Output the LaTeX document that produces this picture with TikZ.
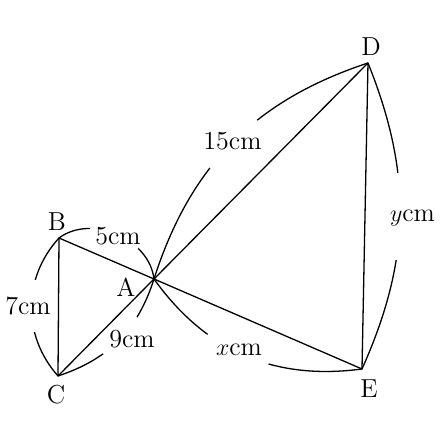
\documentclass[tikz,border=0pt]{standalone}
\begin{document}
\begin{tikzpicture}[x=0.5pt,y=0.5pt,line width=0.65pt,
  every node/.style={font=\fontsize{13}{15}\selectfont,inner sep=1pt},
  gap/.style={fill=white,draw=none},
  side/.style={line join=round}]
\useasboundingbox (0,0) rectangle (440,437);
% vertices
\coordinate (A) at (154,158);
\coordinate (B) at (59,199);
\coordinate (C) at (58,61);
\coordinate (D) at (368,374);
\coordinate (E) at (362,68);
% arcs (brackets)
\draw (B) to[bend left=60] (A);
\draw (C) to[bend left=42] (B);
\draw (C) to[bend right=27] (A);
\draw (A) to[bend left=27] (D);
\draw (D) to[bend left=23] (E);
\draw (A) to[bend right=31] (E);
% gaps in the arcs for the labels
\fill[gap] (114,198) circle (26);
\fill[gap] (35.5,131) circle (26);
\fill[gap] (119.5,102) circle (25);
\fill[gap] (233,293.5) circle (33.6);
\fill[gap] (238,87.5) circle (33.8);
\fill[gap] (397.5,220.5) circle (43.5);
% sides
\draw[side] (A) -- (B) -- (C) -- (A) -- (D) -- (E) -- (A);
% side labels
\node (l5) at (118,201) {5cm};
\node (l7) at (28,131) {7cm};
\node (l9) at (132,98) {9cm};
\node (l15) at (232.5,295.5) {15cm};
\node (lx) at (239,87.5) {$x$cm};
\node (ly) at (412.5,219) {$y$cm};
% vertex labels
\node (nB) at (57,215) {B};
\node (nC) at (56,42) {C};
\node (nA) at (126,150) {A};
\node (nD) at (371,390) {D};
\node (nE) at (369,48) {E};
\end{tikzpicture}
\end{document}
